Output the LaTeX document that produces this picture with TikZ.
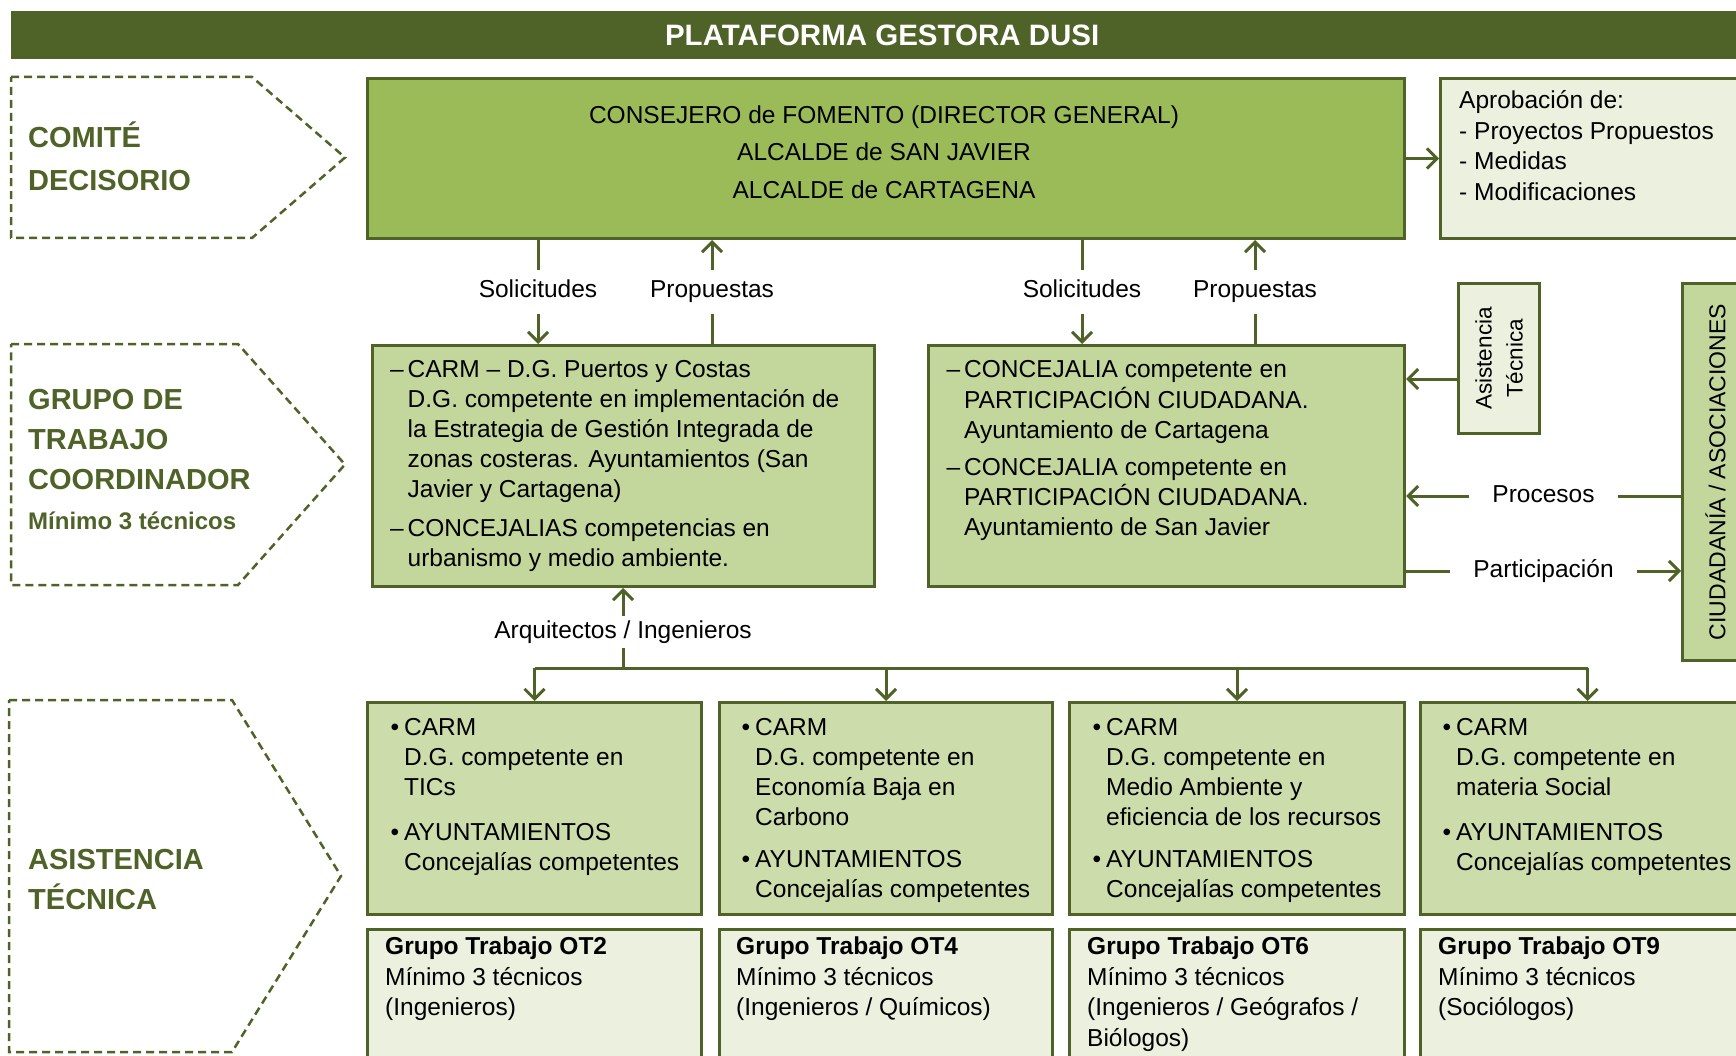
\documentclass[tikz,border=0pt]{standalone}
\usepackage{fontspec}
\setmainfont{Liberation Sans}
\usetikzlibrary{arrows.meta}
\definecolor{dkgreen}{HTML}{4F6228}
\definecolor{topgreen}{HTML}{9BBB59}
\definecolor{midgreen}{HTML}{C3D69B}
\definecolor{lowgreen}{HTML}{CCDCAA}
\definecolor{palegreen}{HTML}{EBF1DE}
\newcommand{\fsn}{\fontsize{24.5}{30}\selectfont}
\newcommand{\itm}{\llap{–\hspace{4pt}}}
\newcommand{\bul}{\llap{\textbullet\hspace{5pt}}}
\begin{document}
\begin{tikzpicture}[x=1pt, y=-1pt,
  box/.style={draw=dkgreen, line width=3pt, inner sep=0pt, anchor=north west},
  tx/.style={inner sep=0pt, anchor=north west, align=left, font=\fsn},
  conn/.style={draw=dkgreen, line width=3pt, -{Straight Barb[length=10pt,width=20pt]}},
  plainline/.style={draw=dkgreen, line width=3pt},
  lbl/.style={fill=white, inner xsep=23pt, inner ysep=11pt, font=\fsn, text height=17pt, text depth=5pt},
  dashbox/.style={draw=dkgreen, line width=2.5pt, dash pattern=on 8pt off 5pt},
  head/.style={inner sep=0pt, anchor=north west, align=left, text=dkgreen}]
\useasboundingbox (0,0) rectangle (1736,1056);

% title bar
\node[fill=dkgreen, anchor=north west, minimum width=1742pt, minimum height=48pt, inner sep=0pt,
      text=white, font=\fontsize{29.5}{34}\selectfont\bfseries] (title) at (11,11) {PLATAFORMA GESTORA DUSI};

% left dashed pentagons
\draw[dashbox] (11,77) -- (252,77) -- (345,157.5) -- (252,238) -- (11,238) -- cycle;
\draw[dashbox] (11,344) -- (238,344) -- (345,464.5) -- (238,585) -- (11,585) -- cycle;
\draw[dashbox] (9,700) -- (232,700) -- (341,876) -- (232,1052) -- (9,1052) -- cycle;

\node[head, font=\fontsize{29}{43}\selectfont\bfseries] (hcom) at (28,117) {\strut COMITÉ\\DECISORIO};
\node[head, font=\fontsize{29}{40}\selectfont\bfseries] (hgru) at (28,381)
  {\strut GRUPO DE\\TRABAJO\\COORDINADOR\\{\fontsize{24}{40}\selectfont Mínimo 3 técnicos}};
\node[head, font=\fontsize{29}{40}\selectfont\bfseries] (hasi) at (28,841) {\strut ASISTENCIA\\TÉCNICA};

% top box
\node[box, fill=topgreen, minimum width=1037pt, minimum height=160pt] (top) at (366,77) {};
\node[inner sep=0pt, anchor=north, align=center, font=\fontsize{24.5}{37.5}\selectfont] (toptx) at (884,97)
  {\strut CONSEJERO de FOMENTO (DIRECTOR GENERAL)\\ALCALDE de SAN JAVIER\\ALCALDE de CARTAGENA};

% aprobacion box
\node[box, fill=palegreen, minimum width=330pt, minimum height=160pt] (apr) at (1439,77) {};
\node[tx, font=\fontsize{24.5}{30.5}\selectfont] (aprtx) at (1459,87)
  {\strut Aprobación de:\\- Proyectos Propuestos\\- Medidas\\- Modificaciones};
\draw[conn] (top.east) -- (apr.west);

% middle boxes
\node[box, fill=midgreen, minimum width=502pt, minimum height=241pt] (midL) at (371,344) {};
\node[box, fill=midgreen, minimum width=476pt, minimum height=241pt] (midR) at (927,344) {};
\node[tx] (midLtx) at (407.5,356)
  {\strut\itm CARM – D.G. Puertos y Costas\\
   D.G. competente en implementación de\\
   la Estrategia de Gestión Integrada de\\
   zonas costeras. Ayuntamientos (San\\
   Javier y Cartagena)\\[9pt]
   \itm CONCEJALIAS competencias en\\
   urbanismo y medio ambiente.};
\node[tx] (midRtx) at (964,356)
  {\strut\itm CONCEJALIA competente en\\
   PARTICIPACIÓN CIUDADANA.\\
   Ayuntamiento de Cartagena\\[7pt]
   \itm CONCEJALIA competente en\\
   PARTICIPACIÓN CIUDADANA.\\
   Ayuntamiento de San Javier};

% top <-> middle connectors
\coordinate (xa) at (538,0);
\coordinate (xb) at (712,0);
\coordinate (xc) at (1082,0);
\coordinate (xd) at (1255,0);
\draw[conn] (top.south -| xa) -- node[lbl] {Solicitudes} (midL.north -| xa);
\draw[conn] (midL.north -| xb) -- node[lbl] {Propuestas} (top.south -| xb);
\draw[conn] (top.south -| xc) -- node[lbl] {Solicitudes} (midR.north -| xc);
\draw[conn] (midR.north -| xd) -- node[lbl] {Propuestas} (top.south -| xd);

% asistencia tecnica small box
\node[box, fill=palegreen, minimum width=81pt, minimum height=150pt] (asis) at (1457,282) {};
\node[rotate=90, align=center, inner sep=0pt, font=\fontsize{22.5}{31}\selectfont] (asistx) at (asis.center)
  {Asistencia\\Técnica};
\coordinate (ya) at (0,379);
\draw[conn] (asis.west |- ya) -- (midR.east |- ya);

% ciudadania box
\node[box, fill=midgreen, minimum width=70pt, minimum height=377pt] (ciu) at (1681,282) {};
\node[rotate=90, inner sep=0pt, font=\fontsize{23}{26}\selectfont] (ciutx) at ([xshift=-2pt]ciu.center)
  {CIUDADANÍA / ASOCIACIONES};
\coordinate (yb) at (0,496);
\coordinate (yc) at (0,571);
\draw[conn] (ciu.west |- yb) -- node[lbl] {Procesos} (midR.east |- yb);
\draw[conn] (midR.east |- yc) -- node[lbl] {Participación} (ciu.west |- yc);

% bottom boxes
\node[box, fill=lowgreen, minimum width=334pt, minimum height=212pt] (b1) at (366,701) {};
\node[box, fill=lowgreen, minimum width=333pt, minimum height=212pt] (b2) at (718,701) {};
\node[box, fill=lowgreen, minimum width=335pt, minimum height=212pt] (b3) at (1068,701) {};
\node[box, fill=lowgreen, minimum width=334pt, minimum height=212pt] (b4) at (1419,701) {};

\node[tx] (b1tx) at (404,714)
  {\strut\bul CARM\\D.G. competente en\\TICs\\[15pt]\bul AYUNTAMIENTOS\\Concejalías competentes};
\node[tx] (b2tx) at (755,714)
  {\strut\bul CARM\\D.G. competente en\\Economía Baja en\\Carbono\\[12pt]\bul AYUNTAMIENTOS\\Concejalías competentes};
\node[tx] (b3tx) at (1106,714)
  {\strut\bul CARM\\D.G. competente en\\Medio Ambiente y\\eficiencia de los recursos\\[12pt]\bul AYUNTAMIENTOS\\Concejalías competentes};
\node[tx] (b4tx) at (1456,714)
  {\strut\bul CARM\\D.G. competente en\\materia Social\\[15pt]\bul AYUNTAMIENTOS\\Concejalías competentes};

\node[box, fill=palegreen, minimum width=334pt, minimum height=150pt] (g1) at (366,928) {};
\node[box, fill=palegreen, minimum width=333pt, minimum height=150pt] (g2) at (718,928) {};
\node[box, fill=palegreen, minimum width=335pt, minimum height=150pt] (g3) at (1068,928) {};
\node[box, fill=palegreen, minimum width=334pt, minimum height=150pt] (g4) at (1419,928) {};

\node[tx, font=\fontsize{24.5}{30.5}\selectfont] (g1tx) at (385,933)
  {\strut\textbf{Grupo Trabajo OT2}\\Mínimo 3 técnicos\\(Ingenieros)};
\node[tx, font=\fontsize{24.5}{30.5}\selectfont] (g2tx) at (736,933)
  {\strut\textbf{Grupo Trabajo OT4}\\Mínimo 3 técnicos\\(Ingenieros / Químicos)};
\node[tx, font=\fontsize{24.5}{30.5}\selectfont] (g3tx) at (1087,933)
  {\strut\textbf{Grupo Trabajo OT6}\\Mínimo 3 técnicos\\(Ingenieros / Geógrafos /\\Biólogos)};
\node[tx, font=\fontsize{24.5}{30.5}\selectfont] (g4tx) at (1438,933)
  {\strut\textbf{Grupo Trabajo OT9}\\Mínimo 3 técnicos\\(Sociólogos)};

% arquitectos / ingenieros distribution
\coordinate (j) at (623,668);
\draw[conn] (j) -- node[lbl, pos=0.45, inner ysep=5pt] {Arquitectos / Ingenieros} (midL.south -| j);
\draw[plainline] (b1.north |- j) -- (b4.north |- j);
\draw[conn] (b1.north |- j) -- (b1.north);
\draw[conn] (b2.north |- j) -- (b2.north);
\draw[conn] (b3.north |- j) -- (b3.north);
\draw[conn] (b4.north |- j) -- (b4.north);
\end{tikzpicture}
\end{document}
